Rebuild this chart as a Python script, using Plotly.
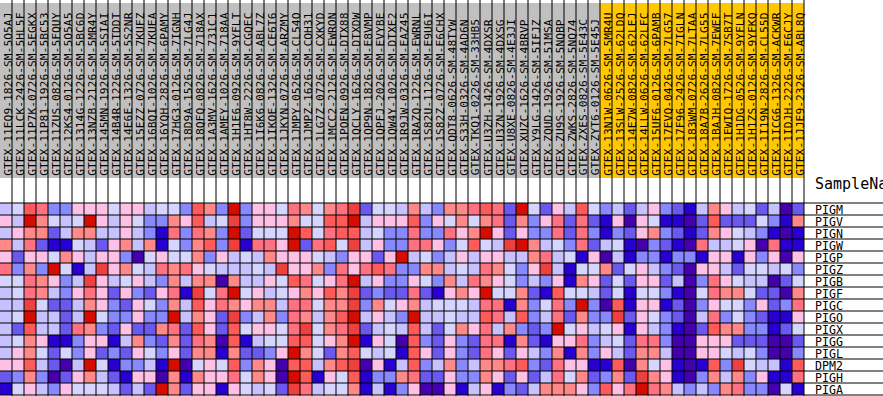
import plotly.graph_objects as go

COLORS = ["#4500AD", "#2700D1", "#6B58EF", "#8888FF", "#C7C1FF", "#D5D5FF",
          "#FFC0E5", "#FF8989", "#FF7080", "#FF5A5A", "#EF4040", "#D60C00"]
CODES = "abcdefghijkl"


def levels(*parts):
    return [CODES.index(c) for c in "".join(parts)]


GENES = ["PIGM", "PIGV", "PIGN", "PIGW", "PIGP", "PIGZ", "PIGB", "PIGF",
         "PIGC", "PIGO", "PIGX", "PIGG", "PIGL", "DPM2", "PIGH", "PIGA"]

SAMPLES_GREY = [
    "GTEX-11EQ9-1826-SM-5O5AJ", "GTEX-11LCK-2426-SM-5HL5F", "GTEX-11P7K-0726-SM-5EGKX",
    "GTEX-11P81-1926-SM-5BC53", "GTEX-11ZUS-0826-SM-5FQUY", "GTEX-12KS4-0126-SM-5O5A5",
    "GTEX-1314G-1226-SM-5BC6D", "GTEX-13NZB-2126-SM-5MR4Y", "GTEX-145MN-1926-SM-5SIAI",
    "GTEX-14B4R-1226-SM-5TDDT", "GTEX-14E6E-1326-SM-5S2NR", "GTEX-15EZZ-0726-SM-7KUFZ",
    "GTEX-16BQI-1026-SM-7KUEA", "GTEX-16YQH-2826-SM-6PAMY", "GTEX-17HG3-0126-SM-7IGNH",
    "GTEX-18D9A-1526-SM-7LG4J", "GTEX-18QFQ-0826-SM-718AX", "GTEX-1A3MV-1626-SM-731C1",
    "GTEX-1AMEY-1026-SM-718AA", "GTEX-1H1E6-0926-SM-9YFLT", "GTEX-1HT8W-2226-SM-CGQEC",
    "GTEX-1I6K6-0826-SM-ABL7Z", "GTEX-1IKOE-1326-SM-CE6T6", "GTEX-1JKYN-0726-SM-ARZMY",
    "GTEX-1JMPY-0526-SM-CL54O", "GTEX-1JMPZ-1626-SM-COH31", "GTEX-1LG7Z-0726-SM-CXKYD",
    "GTEX-1MCC2-2126-SM-EWRON", "GTEX-1POEN-0926-SM-DTX88", "GTEX-1QCLY-1626-SM-DTXDW",
    "GTEX-1QP9N-1826-SM-E8VMP", "GTEX-1QPFJ-2026-SM-EVYBE", "GTEX-1QW4Y-1026-SM-DTXE2",
    "GTEX-1R9JW-0326-SM-EAZ45", "GTEX-1RAZQ-1226-SM-EWRNL", "GTEX-1S82U-1126-SM-E9U6I",
    "GTEX-1S82Z-0726-SM-E6CHX", "GTEX-QDT8-0626-SM-48TYW", "GTEX-S33H-0326-SM-4AD6N",
    "GTEX-TKQ1-0226-SM-33HB5", "GTEX-U3ZH-1426-SM-4DXSR", "GTEX-U3ZN-1926-SM-4DXSG",
    "GTEX-U8XE-0826-SM-4E3JI", "GTEX-XUZC-1626-SM-4BRVP", "GTEX-Y9LG-1426-SM-5IFJZ",
    "GTEX-ZQUD-1926-SM-51MSA", "GTEX-ZU9S-1926-SM-5NQBP", "GTEX-ZWKS-2826-SM-5NQ74",
    "GTEX-ZXES-0826-SM-5E43C", "GTEX-ZYT6-0126-SM-5E45J",
]
SAMPLES_ORANGE = [
    "GTEX-13N1W-0626-SM-5MR4U", "GTEX-13SLW-2526-SM-62LDQ", "GTEX-14E7W-0826-SM-62LEJ",
    "GTEX-14LLW-0626-SM-62LFC", "GTEX-15UF6-0126-SM-6PAMB", "GTEX-17EVQ-0426-SM-7LG57",
    "GTEX-17F96-2426-SM-7IGLN", "GTEX-183WM-0726-SM-7LTAA", "GTEX-18A7B-2626-SM-7LG55",
    "GTEX-1BAJH-0826-SM-7EWEF", "GTEX-1EWIQ-1726-SM-7SB7T", "GTEX-1H1DG-0526-SM-9YFLN",
    "GTEX-1H1ZS-0126-SM-9YFKQ", "GTEX-1I19N-2826-SM-CL55D", "GTEX-1ICG6-1326-SM-ACKWR",
    "GTEX-1IDJH-2226-SM-E6CJY", "GTEX-1JJE9-2326-SM-ABL8Q",
]

PIGM = levels("efjiddgggfggeffdjhdldggfi", "hfhikcffehedhhijiclfcgejf", "decegdcbehgefceac")
PIGV = levels("gelhfeflgegfddhgjefkdgggh", "ffjjlegggjdgfhfhichdgicic", "bgagfbbacjcccfdbh")
PIGN = levels("eghhcehheegedbidihdlcfffl", "jfijjefddiddighlgcgddicid", "bdcghdcbchgfedbab")
PIGW = levels("heicbbfecghehbfdhjdkbiigl", "cijfkegddiigdfjfeklhefdic", "efbadcbaieefgaibb")
PIGP = levels("gcggfhgeggdafgffhdgefehgg", "gfedggcglefdegeggeehiefbg", "aebddbddbggbgdgag")
PIGZ = levels("idhdlfbekghfeihigfeeefekg", "ghdigijiddhhefeihfdgkebff", "hcfgedcaggecffefd")
PIGB = levels("ffihgdekgefgedhehhaheegfj", "ifgilegddgfdheihgfdedgbhg", "cfcggceadigfeeacf")
PIGF = levels("efihedgigcgdcgibkfilfgefg", "hgjhkcdccicbghglffhcbjffe", "cfbffdbafihhfccah")
PIGC = levels("eekfccehgdcgfdhejgihghhei", "ifhhkdhfghefffeiibhdfidld", "ajbggbcadgffdgcdi")
PIGO = levels("efleecelfddgddlehgckdehdi", "hehjlegedleefeejiejdeichd", "dkcgfdcaeidfdcbbg")
PIGX = levels("ecjeecihdcgcchicjgcjfggfi", "kfhikcefejecfhgiehdcdlfge", "fgbgedbacjhhddbcf")
PIGG = levels("efhgbbdggbehdchcihajbeffj", "jfghlbgfajdcgdciibhcbggid", "efciidaagggcccaac")
PIGL = levels("eghfcfdgcdcgfdgchhbhccdgl", "hfchjfefbjgcgdcigcgedhbhd", "gechheaaggfefdaad")
DPM2 = levels("ggjecaelfbddeblafgfjdhgaj", "jehjkagbejdehdehhijdciggb", "bjahfgbabjdkfeebj")
PIGH = levels("cdhdacghecbggahbhggifhgal", "jbgfjbddhiccgddhgcgceifhc", "dhckhgbadhehdgbbi")
PIGA = levels("bfgedgfffececlhcggbgfefck", "ieffhbebdgaagbegbdcehhhgd", "jgilihededhiddafb")

MATRIX = [PIGM, PIGV, PIGN, PIGW, PIGP, PIGZ, PIGB, PIGF,
          PIGC, PIGO, PIGX, PIGG, PIGL, DPM2, PIGH, PIGA]
SAMPLES = SAMPLES_GREY + SAMPLES_ORANGE
GROUP = [0] * len(SAMPLES_GREY) + [1] * len(SAMPLES_ORANGE)

W, H = 883, 396
CELL = 12
TOP = 203
n_col = len(SAMPLES)
n_row = len(GENES)


def row_at(px):
    return (px - TOP) / CELL - 0.5


def step_scale(cols):
    n = len(cols)
    out = []
    for i, c in enumerate(cols):
        out += [[i / n, c], [(i + 1) / n, c]]
    return out


fig = go.Figure()
fig.add_trace(go.Heatmap(
    z=MATRIX, x=list(range(n_col)), y=list(range(n_row)),
    zmin=-0.5, zmax=11.5, colorscale=step_scale(COLORS),
    showscale=False, hoverinfo="skip"))
fig.add_trace(go.Heatmap(
    z=[GROUP], x=list(range(n_col)), y=[row_at(3), row_at(178)],
    zmin=-0.5, zmax=1.5, colorscale=step_scale(["#C0C0C0", "#FFC800"]),
    showscale=False, hoverinfo="skip"))

line = dict(color="#000000", width=1)
shapes = []
for i in range(n_col):
    shapes.append(dict(type="line", xref="x", yref="y", x0=i + 0.5, x1=i + 0.5,
                       y0=row_at(0), y1=row_at(H), line=line, layer="above"))
for k in range(n_row + 1):
    shapes.append(dict(type="line", xref="x", yref="y", x0=-0.5, x1=W / CELL - 0.5,
                       y0=k - 0.5, y1=k - 0.5, line=line, layer="above"))

ann = []
for i, s in enumerate(SAMPLES):
    ann.append(dict(x=i + 0.15, y=row_at(176.5), text=s, textangle=-90, xref="x", yref="y",
                    xanchor="center", yanchor="bottom", showarrow=False, borderpad=0,
                    font=dict(family="DejaVu Sans Mono", size=11.3, color="#000000")))
for r, g in enumerate(GENES):
    ann.append(dict(x=n_col - 0.5 + 10 / CELL, y=r + 0.05, text=g, xref="x", yref="y",
                    xanchor="left", yanchor="middle", showarrow=False, borderpad=0,
                    font=dict(family="DejaVu Sans Mono", size=11.6, color="#000000")))
ann.append(dict(x=n_col - 0.5 + 10 / CELL, y=row_at(184), text="SampleName", xref="x", yref="y",
                xanchor="left", yanchor="middle", showarrow=False, borderpad=0,
                font=dict(family="DejaVu Sans Mono", size=15, color="#000000")))

fig.update_layout(
    width=W, height=H, margin=dict(l=0, r=0, t=0, b=0),
    paper_bgcolor="#FFFFFF", plot_bgcolor="#FFFFFF",
    annotations=ann, shapes=shapes, showlegend=False,
    xaxis=dict(range=[-0.5, W / CELL - 0.5], showgrid=False, zeroline=False,
               showticklabels=False, ticks="", fixedrange=True),
    yaxis=dict(range=[row_at(H), row_at(0)], showgrid=False, zeroline=False,
               showticklabels=False, ticks="", fixedrange=True),
)
fig.write_html("out.html", config={"displayModeBar": False},
               post_script="document.body.style.margin='0';document.body.style.overflow='hidden';")
